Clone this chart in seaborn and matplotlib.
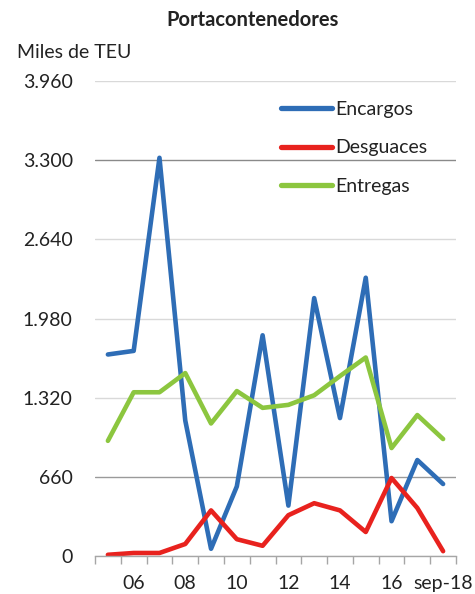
import matplotlib
matplotlib.use("Agg")
import matplotlib.pyplot as plt
import seaborn as sns
import pandas as pd
from matplotlib.ticker import FixedLocator, FuncFormatter

# Annual series, thousands of TEU (2018 through September)
years = ["2005", "2006", "2007", "2008", "2009", "2010", "2011",
         "2012", "2013", "2014", "2015", "2016", "2017", "sep-2018"]
tick_labels = ["", "06", "", "08", "", "10", "", "12", "", "14", "", "16", "", "sep-18"]
encargos = [1680, 1710, 3320, 1130, 60, 580, 1840, 420, 2150, 1150, 2320, 290, 800, 600]
desguaces = [10, 25, 25, 100, 380, 140, 85, 340, 440, 380, 200, 650, 400, 40]
entregas = [960, 1365, 1365, 1525, 1105, 1375, 1235, 1260, 1340, 1500, 1655, 900, 1175, 975]
y_ticks = [0, 660, 1320, 1980, 2640, 3300, 3960]

series = {"Encargos": encargos, "Desguaces": desguaces, "Entregas": entregas}
palette = {"Encargos": "#2E6DB6", "Desguaces": "#E8221E", "Entregas": "#8CC63F"}

df = pd.DataFrame({
    "pos": list(range(len(years))) * len(series),
    "serie": [name for name in series for _ in years],
    "valor": [v for vals in series.values() for v in vals],
})

sns.set_theme(style="white")
plt.rcParams["font.family"] = ["Lato", "DejaVu Sans"]

fig = plt.figure(figsize=(4.75, 5.94), dpi=100)
ax = fig.add_axes([0.2, 0.064, 0.76, 0.7996])

sns.lineplot(data=df, x="pos", y="valor", hue="serie", palette=palette,
             hue_order=list(series), linewidth=3.3, ax=ax, legend=True)

ax.set_xlim(-0.5, len(years) - 0.5)
ax.set_ylim(0, 3960)
ax.set_xlabel("")
ax.set_ylabel("")

# y axis: labels with dot thousands separator, horizontal grid
ax.yaxis.set_major_locator(FixedLocator(y_ticks))
ax.yaxis.set_major_formatter(FuncFormatter(lambda v, p: f"{int(v):,}".replace(",", ".")))
ax.tick_params(axis="y", length=0, pad=16, labelsize=14, colors="#222222")
ax.yaxis.grid(True, color="#D9D9D9", linewidth=1.0)
grid = ax.get_ygridlines()
grid[1].set_color("#9A9A9A")
grid[5].set_color("#8A8A8A")
ax.set_axisbelow(True)

# x axis: labels at category centres, tick marks at boundaries
ax.xaxis.set_major_locator(FixedLocator(range(len(years))))
ax.set_xticklabels(tick_labels)
ax.xaxis.set_minor_locator(FixedLocator([i - 0.5 for i in range(len(years) + 1)]))
ax.tick_params(axis="x", which="major", length=0, pad=14, labelsize=14, colors="#222222")
ax.tick_params(axis="x", which="minor", bottom=True, length=6, width=1, color="#A6A6A6")

for side in ("top", "right", "left"):
    ax.spines[side].set_visible(False)
ax.spines["bottom"].set_color("#A6A6A6")
ax.spines["bottom"].set_linewidth(1.0)

leg = ax.legend(loc="upper left", bbox_to_anchor=(0.495, 0.975), frameon=False,
                fontsize=14, handlelength=2.6, handletextpad=0.15,
                labelspacing=1.12, borderaxespad=0)
for line in leg.get_lines():
    line.set_linewidth(3.8)
for t in leg.get_texts():
    t.set_color("#222222")

fig.text(253 / 475, 1 - 20 / 594, "Portacontenedores", ha="center", va="center",
         fontsize=14.5, fontweight="bold", color="#222222")
fig.text(17 / 475, 1 - 53 / 594, "Miles de TEU", ha="left", va="center",
         fontsize=14, color="#222222")

fig.savefig("out.png", dpi=100)
